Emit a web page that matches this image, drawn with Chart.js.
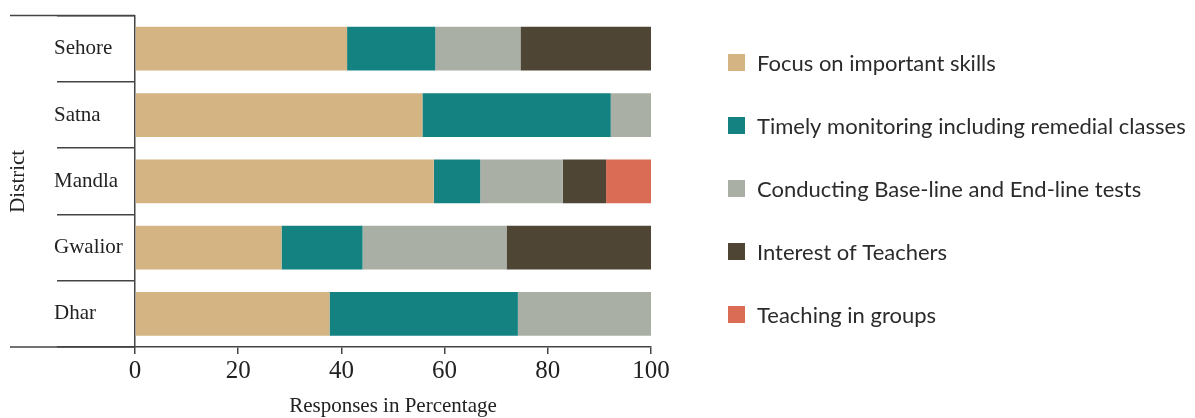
<!DOCTYPE html>
<html>
<head>
<meta charset="utf-8">
<script src="https://cdn.jsdelivr.net/npm/chart.js@4/dist/chart.umd.min.js"></script>
<style>
  html, body { margin: 0; padding: 0; background: #ffffff; }
  canvas { display: block; }
</style>
</head>
<body>
<canvas id="chart" width="1195" height="418"></canvas>
<script>
// Districts, listed top to bottom
const districts = ['Sehore', 'Satna', 'Mandla', 'Gwalior', 'Dhar'];

// Share of responses (%) per factor, one value per district
const focusSkills      = [41.1, 55.7, 57.9, 28.4, 37.7];
const timelyMonitoring = [17.1, 36.5,  9.0, 15.7, 36.5];
const baseEndTests     = [16.5,  7.8, 16.0, 27.9, 25.8];
const teacherInterest  = [25.3,  0.0,  8.4, 28.0,  0.0];
const groupTeaching    = [ 0.0,  0.0,  8.7,  0.0,  0.0];

const seriesNames = [
  'Focus on important skills',
  'Timely monitoring including remedial classes',
  'Conducting Base-line and End-line tests',
  'Interest of Teachers',
  'Teaching in groups'
];
const seriesColors = ['#d4b482', '#158282', '#a9afa4', '#4e4534', '#da6c56'];

const xTicks = [0, 20, 40, 60, 80, 100];

const axisColor = '#444444';
const serif = "'Liberation Serif', 'Times New Roman', serif";
const sans = "Lato, 'Open Sans', sans-serif";

const seriesValues = [focusSkills, timelyMonitoring, baseEndTests, teacherInterest, groupTeaching];

// Extra frame lines, the rotated "District" title and the side legend
const framePlugin = {
  id: 'frameAndLegend',
  afterDraw(chart) {
    const ctx = chart.ctx;
    const area = chart.chartArea;
    ctx.save();
    ctx.strokeStyle = axisColor;
    ctx.lineWidth = 1.5;
    ctx.beginPath();
    ctx.moveTo(10, area.top);
    ctx.lineTo(area.left, area.top);
    ctx.moveTo(10, area.bottom);
    ctx.lineTo(area.left, area.bottom);
    ctx.stroke();

    // y-axis title
    ctx.fillStyle = '#222222';
    ctx.font = '21px ' + serif;
    ctx.textAlign = 'center';
    ctx.textBaseline = 'middle';
    ctx.translate(18, (area.top + area.bottom) / 2);
    ctx.rotate(-Math.PI / 2);
    ctx.fillText('District', 0, 0);
    ctx.restore();

    // legend
    ctx.save();
    ctx.font = '22px ' + sans;
    ctx.textAlign = 'left';
    ctx.textBaseline = 'middle';
    chart.data.datasets.forEach((ds, i) => {
      const cy = 62.5 + i * 63;
      ctx.fillStyle = ds.backgroundColor;
      ctx.fillRect(728, cy - 8.5, 17, 17);
      ctx.fillStyle = '#2b2b2b';
      ctx.fillText(ds.label, 757, cy + 1);
    });
    ctx.restore();
  }
};

new Chart(document.getElementById('chart'), {
  type: 'bar',
  data: {
    labels: districts,
    datasets: seriesValues.map((vals, i) => ({
      label: seriesNames[i],
      data: vals,
      backgroundColor: seriesColors[i],
      borderWidth: 0,
      barPercentage: 0.66,
      categoryPercentage: 1.0
    }))
  },
  options: {
    indexAxis: 'y',
    responsive: false,
    animation: false,
    layout: { padding: { top: 13, left: 54, right: 544, bottom: 0 } },
    plugins: {
      legend: { display: false },
      tooltip: { enabled: false }
    },
    scales: {
      x: {
        stacked: true,
        min: 0,
        max: 100,
        afterBuildTicks(scale) { scale.ticks = xTicks.map(v => ({ value: v })); },
        afterFit(scale) { scale.height = 71; },
        grid: { drawOnChartArea: false, color: axisColor, lineWidth: 1.5, tickLength: 7 },
        border: { display: true, color: axisColor, width: 1.5 },
        ticks: { color: '#222222', font: { family: serif, size: 25 }, padding: 2, maxRotation: 0 },
        title: {
          display: true,
          text: 'Responses in Percentage',
          color: '#222222',
          font: { family: serif, size: 21 },
          padding: { top: 0, bottom: -1 }
        }
      },
      y: {
        stacked: true,
        afterFit(scale) { scale.width = 81; },
        grid: { drawOnChartArea: false, color: axisColor, lineWidth: 1.5, tickLength: 78, offset: true },
        border: { display: true, color: axisColor, width: 1.5 },
        ticks: { color: '#222222', font: { family: serif, size: 21 }, crossAlign: 'far' }
      }
    }
  },
  plugins: [framePlugin]
});
</script>
</body>
</html>
